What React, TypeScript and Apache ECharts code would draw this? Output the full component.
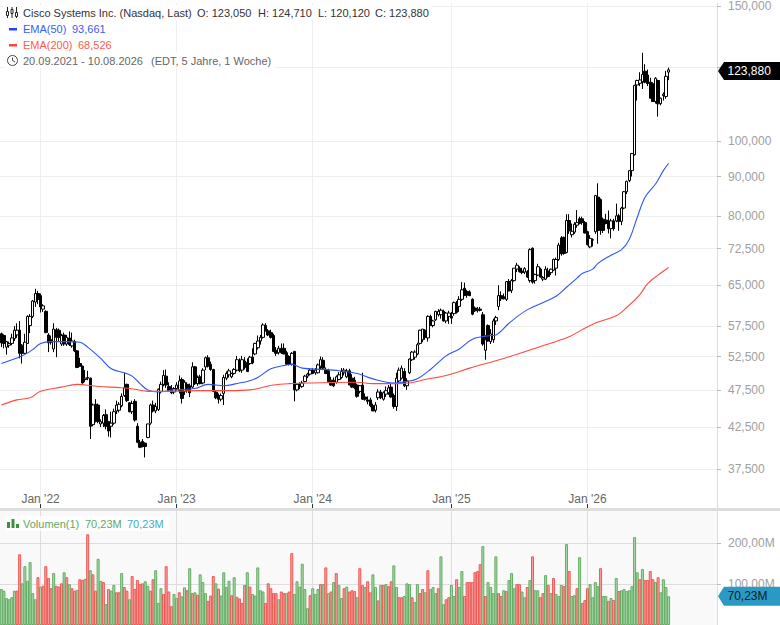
import React, { useEffect, useRef } from "react";
import * as echarts from "echarts";

// week 0 = 20.09.2021, one candle a week, prices in USD: [open, high, low, close]
const firstWeek = "2021-09-20";
const ohlc: number[][] = [
  [56.2,56.4,54.0,54.7],[55.9,56.1,53.8,54.6],[54.0,55.0,52.8,54.9],[54.3,54.9,53.9,54.6],[54.6,56.2,54.3,55.5],[55.4,57.5,55.0,56.8],[56.0,58.0,55.5,56.8],[56.8,58.4,52.2,53.0],[54.3,54.5,51.4,53.0],[53.0,56.2,52.9,54.8],
  [54.6,59.4,54.5,59.2],[57.6,59.6,56.3,59.2],[59.2,62.2,58.9,62.0],[61.8,64.3,60.9,63.4],[63.4,63.9,61.4,62.3],[63.0,63.4,59.9,60.9],[60.5,61.4,60.0,61.1],[60.1,60.3,56.3,56.4],[56.0,56.3,53.2,54.7],[55.2,55.9,54.4,54.8],
  [53.7,58.0,53.2,57.0],[56.9,57.2,52.4,55.6],[56.8,57.1,54.9,55.6],[54.5,56.2,54.2,55.9],[56.0,56.4,54.2,54.5],[54.5,56.0,54.2,55.6],[55.5,56.6,54.2,54.4],[54.2,56.4,53.9,55.0],[54.9,55.2,53.2,53.4],[53.4,53.5,50.7,50.8],
  [51.4,52.3,50.9,51.0],[51.0,51.1,48.4,48.5],[49.0,50.4,48.6,49.2],[49.2,50.3,48.9,49.3],[49.2,49.3,41.0,42.6],[42.8,45.6,42.6,45.4],[45.5,46.2,43.1,43.3],[45.4,45.6,43.0,43.2],[42.9,43.5,42.5,43.2],[43.0,44.2,42.5,44.0],
  [44.1,44.8,42.2,42.6],[43.2,43.3,41.3,42.0],[42.6,44.5,41.2,43.0],[43.0,44.9,42.8,44.5],[44.6,46.0,44.2,45.4],[44.7,45.8,44.4,45.5],[45.3,47.0,45.1,46.6],[46.7,50.0,46.5,47.8],[48.3,48.4,45.8,46.0],[45.7,45.8,44.4,44.5],
  [44.5,46.0,44.2,45.6],[45.9,46.2,43.2,43.4],[42.6,43.0,40.5,40.6],[40.6,40.9,39.9,40.0],[40.7,41.0,40.0,40.1],[40.5,40.6,38.8,40.1],[41.2,42.9,41.1,42.9],[43.0,45.6,42.8,45.4],[45.4,46.0,44.4,44.6],[44.6,45.7,44.3,45.2],
  [44.8,47.7,44.6,47.6],[47.3,48.7,47.0,48.3],[48.3,50.4,48.0,49.6],[49.5,50.5,47.8,48.2],[48.0,48.6,47.3,47.4],[47.7,48.2,46.9,47.1],[47.2,47.9,46.9,47.7],[47.7,48.6,47.4,48.2],[47.4,49.6,47.0,48.8],[49.0,49.3,45.6,46.3],
  [47.3,48.9,46.8,48.6],[48.3,48.6,47.1,47.4],[48.1,48.4,46.5,47.1],[47.9,51.6,47.7,50.9],[50.9,51.0,48.2,48.4],[48.4,49.6,48.1,49.3],[49.4,49.7,48.3,48.4],[48.5,50.7,48.3,50.4],[50.9,52.5,50.4,52.3],[52.3,52.7,50.8,51.0],
  [51.3,51.7,50.3,50.5],[50.5,50.6,47.2,47.3],[47.2,47.5,46.2,46.4],[46.7,47.0,45.6,46.2],[46.2,47.0,45.9,46.7],[47.0,49.7,45.4,49.3],[49.2,50.2,48.9,49.9],[49.7,50.6,49.3,50.3],
  [49.4,50.0,49.2,49.9],[49.9,50.7,49.7,50.5],[50.4,52.6,50.2,52.0],[51.6,52.2,50.1,50.3],[50.4,52.6,50.0,52.0],[51.8,52.4,50.5,50.8],[51.6,52.2,50.1,50.2],[51.4,52.6,51.2,52.4],[52.4,53.8,51.3,51.5],[52.9,54.7,52.7,54.6],
  [53.9,55.9,53.6,55.0],[55.0,56.0,54.4,55.6],[55.6,58.0,55.4,57.7],[57.6,58.0,56.6,56.7],[56.7,57.0,55.8,56.0],[56.4,56.9,55.4,55.6],[55.9,56.2,53.2,53.3],[53.5,54.0,52.6,53.0],[53.1,54.2,52.8,53.8],[53.8,54.6,52.9,53.1],
  [53.8,54.6,52.9,52.9],[53.1,53.4,51.2,51.3],[52.5,52.7,51.1,51.3],[51.3,53.2,51.1,53.0],[53.3,53.4,45.9,47.5],[47.5,48.5,47.3,48.3],[48.3,48.6,47.6,48.0],[48.0,48.8,47.8,48.5],[48.7,49.7,48.6,49.5],[49.5,50.0,49.2,49.8],
  [49.8,50.6,49.6,50.4],[50.4,50.7,49.8,49.9],[50.0,50.7,49.7,50.4],[50.0,51.4,49.9,51.2],[51.0,52.5,50.5,52.0],[51.9,52.4,50.4,50.7],[50.5,50.8,49.8,49.9],[50.3,50.6,48.6,48.7],[48.9,49.4,48.1,48.2],[48.9,49.3,47.9,48.1],
  [48.6,49.6,48.4,49.4],[49.0,50.1,48.9,49.7],[49.3,50.7,49.1,50.2],[50.0,50.7,49.6,50.4],[49.4,50.6,49.2,50.3],[50.3,50.6,48.2,48.2],[49.2,49.8,47.8,47.9],[48.9,49.4,47.6,47.8],[48.2,48.4,46.4,46.6],[47.3,48.2,47.0,48.1],
  [48.2,50.0,46.1,46.2],[46.5,47.0,46.0,46.2],[46.1,46.6,45.5,45.9],[46.1,46.4,45.1,45.3],[45.3,45.6,44.6,44.6],[44.7,45.8,44.4,45.4],[46.4,47.6,46.1,47.2],[47.2,47.5,46.2,46.4],[46.2,47.3,46.0,47.1],[46.9,48.0,46.5,47.4],
  [47.1,48.2,46.8,47.8],[47.9,48.4,46.4,46.5],[46.7,47.0,44.9,45.2],[45.2,50.0,44.6,49.2],[48.8,50.8,48.6,50.4],[49.2,51.1,49.0,50.7],[50.2,50.7,47.9,48.1],[48.1,49.2,47.5,48.8],[50.0,52.2,49.8,52.1],[52.0,53.4,51.8,53.2],
  [52.4,53.5,52.0,53.2],[52.9,54.7,52.7,54.4],[54.6,56.9,54.4,56.8],[55.2,57.0,54.8,57.0],[56.8,57.0,55.2,55.6],[55.5,59.4,54.9,59.2],[59.2,59.5,57.6,57.6],[57.6,58.6,57.3,58.4],[58.6,60.2,58.4,60.1],[59.5,60.5,59.2,60.1],
  [59.5,60.6,58.8,60.3],[60.1,60.4,58.3,58.4],[58.4,60.0,58.0,59.8],[59.2,60.2,57.9,59.8],[59.2,60.0,57.9,58.9],[59.7,61.9,59.3,61.7],[61.1,62.0,59.7,59.9],[61.0,62.9,60.0,62.3],[62.3,65.6,62.0,64.1],[64.4,65.5,63.0,63.0],
  [63.8,64.1,62.6,63.1],[63.7,64.0,62.9,63.0],[62.3,62.5,59.4,59.6],[60.7,61.0,60.0,60.2],[60.3,60.9,59.9,60.5],[60.5,60.9,60.1,60.3],[59.5,60.0,54.2,54.5],[53.5,56.0,52.0,55.2],[57.6,57.8,54.9,55.0],[54.9,57.0,54.5,56.2],
  [55.2,58.8,54.7,58.4],[58.4,59.3,57.7,59.0],[61.0,65.0,60.3,63.0],[63.0,63.8,62.0,62.4],[62.8,63.4,62.3,62.4],[62.3,65.8,62.0,65.7],[65.7,66.2,63.8,63.9],[64.0,66.2,63.5,65.9],[65.9,68.4,65.7,68.4],[68.2,69.5,67.6,69.0],
  [68.4,68.8,67.5,67.7],[67.8,68.5,67.2,67.5],[67.6,68.6,67.2,68.3],[67.7,68.0,66.4,66.6],[65.9,72.6,65.5,72.3],[72.6,72.8,65.3,65.6],[65.9,67.3,65.3,67.1],[67.0,69.3,66.8,68.7],[68.2,68.5,66.5,66.6],[66.2,66.8,65.8,66.5],
  [66.2,68.8,66.0,68.2],[67.8,68.5,66.5,66.7],[67.5,68.3,67.0,68.2],[68.0,70.4,67.8,70.2],[68.4,70.6,66.9,70.2],[70.2,73.8,69.9,73.3],[74.9,75.3,71.0,71.4],[75.0,75.2,71.2,71.5],[71.7,80.4,71.5,78.9],[78.9,80.4,75.8,76.5],
  [75.6,78.2,75.0,76.4],[76.2,78.5,75.8,78.0],[77.8,81.4,77.2,78.4],[79.3,79.8,78.0,78.2],[79.3,79.8,77.9,78.4],[78.4,78.8,75.9,76.0],[76.3,76.5,73.2,73.4],[72.9,75.5,72.6,74.8],[74.4,74.8,73.0,74.5],[76.3,85.2,75.8,85.0],
  [84.6,88.2,73.6,76.6],[84.0,84.3,75.6,76.6],[79.2,79.6,76.0,76.6],[79.0,80.5,78.0,78.2],[78.8,81.3,75.9,77.0],[77.0,79.3,74.8,78.8],[78.8,79.3,76.5,77.0],[78.8,83.0,78.5,80.0],[80.0,80.5,76.5,78.7],[78.7,82.2,77.8,81.9],
  [81.9,86.2,81.6,86.0],[86.0,88.9,85.4,88.7],[88.9,91.8,88.5,91.6],[91.6,96.6,90.0,96.4],[96.1,118.5,95.8,118.2],[118.4,120.3,113.0,120.0],[119.0,123.0,118.0,120.2],[119.6,130.4,117.0,122.2],[123.4,126.0,119.0,119.4],[122.0,124.0,118.0,118.9],
  [119.4,121.0,113.7,113.8],[118.8,119.4,112.6,112.7],[112.7,121.2,112.0,120.8],[120.0,120.3,107.7,111.9],[112.0,114.0,111.4,113.8],[114.7,115.8,113.0,115.2],[114.4,123.5,113.6,121.5],[123.05,124.71,120.12,123.88],
];

// [week index, value]
const ema50: number[][] = [
  [0,51.4],[8,52.6],[12,53.6],[15,54.6],[19,54.9],[25,54.9],[30,54.8],[33,54.0],[38,52.2],[42,50.6],[47,50.0],[50,49.5],[53,48.4],[56,47.5],[60,47.2],[66,47.5],[74,47.7],[79,48.3],[85,48.1],[91,48.5],
  [94,48.7],[98,49.3],[103,50.6],[108,51.1],[111,51.3],[115,50.7],[123,50.5],[129,50.3],[136,49.9],[142,49.1],[150,48.5],[155,48.7],[159,49.1],[164,50.5],[170,52.6],[175,53.7],[180,55.3],[185,55.8],[189,56.0],
  [194,58.0],[200,60.1],[206,61.5],[212,62.9],[216,64.6],[220,66.4],[222,67.3],[226,68.2],[228,69.4],[232,70.8],[237,72.3],[240,74.6],[243,79.6],[246,84.6],[250,88.0],[253,91.6],[255,93.66],
];
const ema200: number[][] = [
  [0,45.4],[6,46.1],[11,46.4],[15,47.3],[23,47.9],[29,48.3],[37,48.0],[46,47.8],[51,47.6],[56,47.3],[63,47.3],[76,47.4],[87,47.4],[95,47.5],[104,48.2],[110,48.4],[119,48.5],[136,48.6],[142,48.4],[150,48.4],
  [156,48.5],[162,49.0],[170,49.6],[179,50.7],[192,52.2],[206,54.1],[217,55.7],[222,56.9],[228,58.2],[235,59.3],[239,60.8],[244,63.2],[247,65.3],[251,67.0],[255,68.526],
];

// weekly volume in millions, and the colour of each bar (g = up week, r = down week)
const volumes: number[] = [
  88,84,66,63,68,84,84,173,102,144, 108,154,78,63,117,94,96,144,115,90,
  127,96,94,102,129,117,100,90,84,86, 112,110,113,222,134,124,84,162,108,105,
  51,88,84,98,80,80,127,93,84,63, 120,88,110,100,102,107,96,84,112,134,
  54,90,76,144,82,46,76,66,80,70, 92,85,139,78,80,74,124,105,78,59,
  72,120,102,89,72,129,93,108,73,117, 69,65,54,98,129,94,76,72,141,85,
  82,54,102,90,78,78,63,82,78,78, 82,176,76,107,94,150,88,41,73,90,
  76,88,100,100,141,78,82,105,127,98, 66,90,94,82,85,83,68,139,98,93,
  107,80,124,93,60,98,98,100,95,107, 146,93,68,68,71,102,100,68,56,100,
  78,88,80,134,88,93,78,90,168,51, 63,68,98,71,112,93,132,71,105,105,
  105,129,132,149,193,71,105,93,78,168, 78,71,85,83,110,127,90,100,100,82,
  68,93,110,168,85,85,68,78,122,98, 78,115,76,71,98,95,198,132,71,73,
  90,166,54,61,90,100,68,105,95,139, 71,71,59,66,61,115,83,85,88,83,
  85,95,215,129,112,137,110,110,132,112, 105,117,80,112,93,70.23,
];
const volumeDirs: string[] = [
  "ggggggrrgg","ggggrgrrrr","grrrgrgrrg","rrgrgrrggr","grggrrgrrg","rrrrrggrrg",
  "ggrrrrggrg","grgrgrgggr","rrgrggggrg","rrrrgrgggg","grrrrrgrrg","rrggggggrg",
  "ggrgrgrgrg","grgrrrgrrg","rrggrgrgrr","ggrrgggrgg","rrgrgggrgg","rrggrggrrr",
  "rrrrgrgggg","rrgrgggrrg","grgrggrrgr","grgggrgrgg","rgrrrggggr","ggrgrgrggg",
  "ggggrgrrrr","grgggg",
];

const priceTicks = [37.5, 42.5, 47.5, 52.5, 57.5, 65, 72.5, 80, 90, 100, 125, 150];
const priceLabels = [37.5, 42.5, 47.5, 52.5, 57.5, 65, 72.5, 80, 90, 100, 150];
const volumeTicks = [100, 200];
const emptyWeeksAfterLast = 18;

const headerName = "Cisco Systems Inc. (Nasdaq, Last)";
const headerOhlc = [["O: 123,050", 197], ["H: 124,710", 258], ["L: 120,120", 318], ["C: 123,880", 375]] as [string, number][];
const headerRange = "20.09.2021 - 10.08.2026";
const headerZone = "(EDT, 5 Jahre, 1 Woche)";
const lastPriceLabel = "123,880";
const lastVolumeLabel = "70,23M";

const FONT = '"Liberation Sans", Arial, sans-serif';
const SIZE = `11px ${FONT}`;
const TAG_SIZE = `12px ${FONT}`;
const UP_VOL = { color: "#a8daa8", borderColor: "#64ab65", borderWidth: 1 };
const DOWN_VOL = { color: "#f8a09e", borderColor: "#ec5a55", borderWidth: 1 };

function weekLabel(i: number): string {
  const d = new Date(firstWeek + "T12:00:00Z");
  d.setUTCDate(d.getUTCDate() + i * 7);
  return d.toISOString().slice(0, 10);
}
const isYearStart = (_: number, v: string) => {
  const [, m, d] = v.split("-").map(Number);
  return m === 1 && d <= 7;
};
const categories = Array.from({ length: ohlc.length + emptyWeeksAfterLast }, (_, i) => weekLabel(i));
const dirs = volumeDirs.join("");

const txt = (x: number, y: number, text: string, fill: string, extra: any = {}) => ({
  type: "text", x, y, z: 20, silent: true,
  style: { text, fill, font: SIZE, textVerticalAlign: "middle", ...extra },
});
const whiteBox = (x: number, y: number, w: number, h: number, fill = "rgba(255,255,255,0.82)") => ({
  type: "rect", z: 15, silent: true, shape: { x, y, width: w, height: h }, style: { fill },
});
const bar = (x: number, y: number, w: number, h: number, fill: string, z = 20) => ({
  type: "rect", z, silent: true, shape: { x, y, width: w, height: h }, style: { fill },
});
const seg = (x1: number, y1: number, x2: number, y2: number, stroke: string, lineWidth = 1) => ({
  type: "line", z: 20, silent: true, shape: { x1, y1, x2, y2 }, style: { stroke, lineWidth },
});

export default function App() {
  const ref = useRef<HTMLDivElement>(null);
  useEffect(() => {
    document.body.style.margin = "0";
    document.body.style.overflow = "hidden";
    const chart = echarts.init(ref.current!, undefined, { renderer: "svg" });
    const xBase = {
      type: "category" as const,
      data: categories,
      boundaryGap: true,
      axisLine: { show: false },
    };
    chart.setOption({
      animation: false,
      textStyle: { fontFamily: FONT },
      grid: [
        { left: -1.31, right: 63, top: -0.6, height: 508.6, show: false },
        { left: -1.31, right: 63, top: 511, height: 114.5, show: true, backgroundColor: "#f9f9f9", borderWidth: 0 },
      ],
      xAxis: [
        {
          ...xBase, gridIndex: 0,
          axisTick: { show: true, inside: true, length: 4, interval: isYearStart, alignWithLabel: true, lineStyle: { color: "#333" } },
          axisLabel: {
            show: true, inside: true, margin: 3, interval: isYearStart, color: "#666", fontSize: 12,
            formatter: (v: string) => `Jan '${v.slice(2, 4)}`,
          },
          splitLine: { show: true, interval: isYearStart, alignWithLabel: true, lineStyle: { color: "#eeeeee", width: 1 } },
        },
        {
          ...xBase, gridIndex: 1,
          axisTick: { show: false },
          axisLabel: { show: false },
          splitLine: { show: true, interval: isYearStart, alignWithLabel: true, lineStyle: { color: "#dddddd", width: 1 } },
        },
      ],
      yAxis: [
        {
          type: "log", logBase: 10, gridIndex: 0, position: "right", min: 33.35, max: 151.4, scale: true,
          axisLine: { show: true, lineStyle: { color: "#dddddd" } },
          axisTick: { show: true, length: 4, customValues: priceTicks, lineStyle: { color: "#bbbbbb" } },
          axisLabel: {
            show: true, margin: 11, customValues: priceLabels, color: "#a0a0a0", fontSize: 12,
            formatter: (v: number) => v.toFixed(3).replace(".", ","),
          },
          splitLine: { show: true, lineStyle: { color: "#eeeeee", width: 1 } },
          minorTick: { show: false }, minorSplitLine: { show: false },
        },
        {
          type: "value", gridIndex: 1, position: "right", min: 0, max: 279,
          axisLine: { show: true, lineStyle: { color: "#dddddd" } },
          axisTick: { show: true, length: 4, customValues: volumeTicks, lineStyle: { color: "#bbbbbb" } },
          axisLabel: {
            show: true, margin: 11, customValues: volumeTicks, color: "#a0a0a0", fontSize: 12,
            formatter: (v: number) => `${v.toFixed(2).replace(".", ",")}M`,
          },
          splitLine: { show: true, lineStyle: { color: "#dddddd", width: 1 } },
        },
      ],
      series: [
        {
          type: "bar", name: "Volumen(1)", xAxisIndex: 1, yAxisIndex: 1, barWidth: 3, z: 3,
          data: volumes.map((v, i) => ({ value: v, itemStyle: dirs[i] === "g" ? UP_VOL : DOWN_VOL })),
        },
        {
          type: "candlestick", name: "Cisco", xAxisIndex: 0, yAxisIndex: 0, barWidth: 3, z: 3,
          itemStyle: { color: "#ffffff", color0: "#000000", borderColor: "#000000", borderColor0: "#000000", borderWidth: 1 },
          data: ohlc.map(([o, h, l, c]) => [o, c, l, h]),
        },
        {
          type: "line", name: "EMA(50)", xAxisIndex: 0, yAxisIndex: 0, showSymbol: false, symbol: "none", z: 4, smooth: 0.35,
          lineStyle: { color: "#2f55f5", width: 1.1 }, data: ema50,
        },
        {
          type: "line", name: "EMA(200)", xAxisIndex: 0, yAxisIndex: 0, showSymbol: false, symbol: "none", z: 4, smooth: 0.35,
          lineStyle: { color: "#ff4a3d", width: 1.1 }, data: ema200,
        },
      ],
    });

    const lastClose = ohlc[ohlc.length - 1][3];
    const lastVol = volumes[volumes.length - 1];
    const py = (chart.convertToPixel({ yAxisIndex: 0 }, lastClose) as number) + 1;
    const vy = chart.convertToPixel({ yAxisIndex: 1 }, lastVol) as number;

    chart.setOption({
      graphic: [
        bar(0, 508, 780, 3, "#dddddd", 10),
        whiteBox(3, 5, 430, 16), whiteBox(3, 21, 110, 16), whiteBox(3, 37, 115, 15), whiteBox(3, 52, 272, 16),
        whiteBox(5, 516, 165, 15),
        // instrument icon
        seg(7.5, 7, 7.5, 18, "#222"), seg(12, 7, 12, 18, "#222"), seg(16.5, 7, 16.5, 18, "#222"),
        { type: "rect", z: 21, silent: true, shape: { x: 6.5, y: 11.5, width: 2, height: 4 }, style: { fill: "#fff", stroke: "#222" } },
        { type: "rect", z: 21, silent: true, shape: { x: 11, y: 9.5, width: 2, height: 4 }, style: { fill: "#fff", stroke: "#222" } },
        { type: "rect", z: 21, silent: true, shape: { x: 15.5, y: 12.5, width: 2, height: 4 }, style: { fill: "#fff", stroke: "#222" } },
        txt(23, 13, headerName, "#333333"),
        ...headerOhlc.map(([t, x]) => txt(x, 13, t, "#333333")),
        bar(9, 28, 8, 2.5, "#2244ff"),
        txt(23, 29, "EMA(50)", "#3a5cf5"), txt(72, 29, "93,661", "#3a5cf5"),
        bar(9, 44, 8, 2.5, "#ff4433"),
        txt(23, 45, "EMA(200)", "#ff5a4d"), txt(78, 45, "68,526", "#ff5a4d"),
        { type: "circle", z: 20, silent: true, shape: { cx: 12.5, cy: 60.5, r: 5 }, style: { fill: "none", stroke: "#444", lineWidth: 1 } },
        seg(12.5, 57.5, 12.5, 60.5, "#444"), seg(12.5, 60.5, 15, 62, "#444"),
        txt(23, 60.5, headerRange, "#666666"), txt(151, 60.5, headerZone, "#666666"),
        // volume legend
        bar(7, 522, 3, 6, "#3f8f3f"), bar(11.5, 519, 3, 9, "#3f8f3f"), bar(16, 524, 3, 4, "#3f8f3f"),
        txt(23, 523.5, "Volumen(1)", "#62a862"), txt(85, 523.5, lastVolumeLabel, "#62a862"), txt(127, 523.5, lastVolumeLabel, "#47aacb"),
        // last-value tags, placed through the axes
        {
          type: "polygon", z: 25, silent: true,
          shape: { points: [[718, py], [724, py - 9], [780, py - 9], [780, py + 9], [724, py + 9]] },
          style: { fill: "#000000" },
        },
        { ...txt(727.5, py, lastPriceLabel, "#ffffff", { font: TAG_SIZE }), z: 26 },
        {
          type: "polygon", z: 25, silent: true,
          shape: { points: [[718, vy], [724, vy - 9.5], [780, vy - 9.5], [780, vy + 9.5], [724, vy + 9.5]] },
          style: { fill: "#2a9ac4" },
        },
        { ...txt(727.5, vy, lastVolumeLabel, "#0b1a24", { font: TAG_SIZE }), z: 26 },
      ],
    });
    return () => chart.dispose();
  }, []);
  return <div ref={ref} style={{ width: 780, height: 625 }} />;
}
